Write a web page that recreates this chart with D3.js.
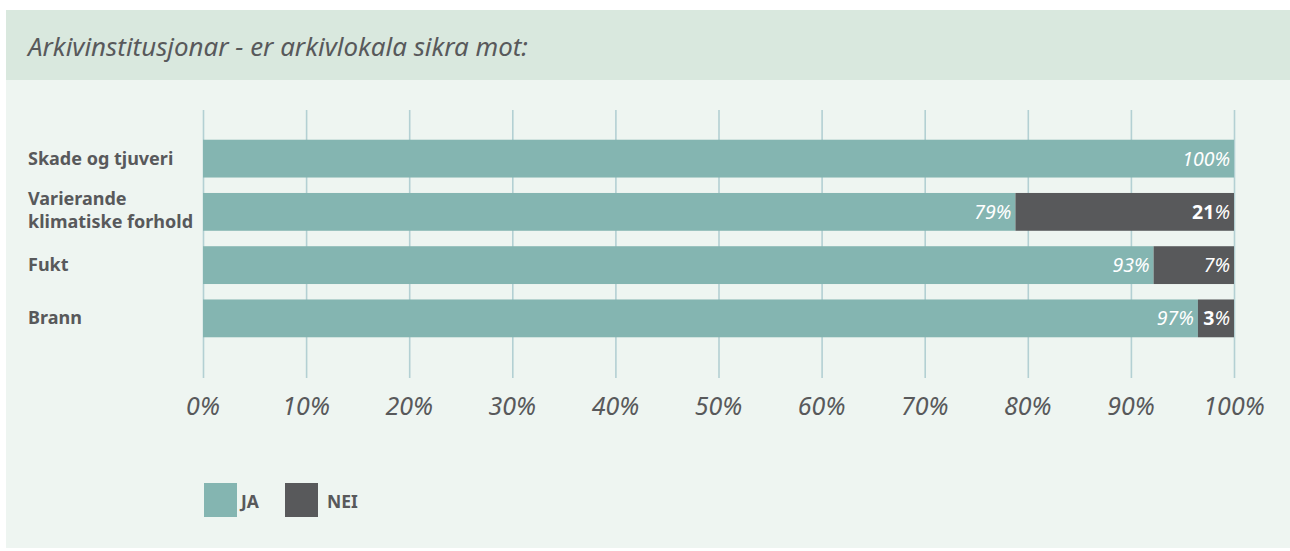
<!DOCTYPE html>
<html>
<head>
<meta charset="utf-8">
<script src="https://cdn.jsdelivr.net/npm/d3@7"></script>
<style>
  body { margin: 0; background: #ffffff; }
  svg { display: block; font-family: "Noto Sans", sans-serif; }
</style>
</head>
<body>
<svg id="chart" width="1290" height="551"></svg>
<script>
// data
var title = "Arkivinstitusjonar - er arkivlokala sikra mot:";
var categories = [["Skade og tjuveri"], ["Varierande", "klimatiske forhold"], ["Fukt"], ["Brann"]];
var jaValues = [100, 78.8, 92.2, 96.5];
var neiValues = [0, 21.2, 7.8, 3.5];
var jaLabels = ["100", "79", "93", "97"];
var neiLabels = ["", "21", "7", "3"];
var neiBold = [false, true, false, true];
var tickValues = [0, 10, 20, 30, 40, 50, 60, 70, 80, 90, 100];
var seriesNames = ["JA", "NEI"];
var colors = ["#84b5b1", "#58595b"];
var textColor = "#58595b";

var svg = d3.select("svg#chart");

// panel background
svg.append("rect").attr("x", 6).attr("y", 10).attr("width", 1284).attr("height", 538).attr("fill", "#eef5f1");
svg.append("rect").attr("x", 6).attr("y", 10).attr("width", 1284).attr("height", 70).attr("fill", "#d9e8de");

svg.append("text")
  .attr("x", 28).attr("y", 56)
  .attr("font-size", 25).attr("font-style", "italic")
  .attr("fill", textColor)
  .attr("textLength", 500).attr("lengthAdjust", "spacingAndGlyphs")
  .text(title);

var xScale = d3.scaleLinear().domain([0, 100]).range([203, 1234]);
var yScale = d3.scaleBand().domain(d3.range(categories.length)).range([132, 345]).paddingInner(0.29).paddingOuter(0.145);

// grid
var g = svg.append("g");
g.append("g")
  .attr("transform", "translate(0,378)")
  .call(d3.axisBottom(xScale).tickValues(tickValues).tickSize(-268).tickFormat(""))
  .call(function (s) {
    s.select(".domain").remove();
    s.selectAll(".tick line").attr("stroke", "#b3d0d3").attr("stroke-width", 1.6);
  });

// tick labels
g.selectAll(".xlab")
  .data(tickValues)
  .enter()
  .append("text")
  .attr("class", "xlab")
  .attr("x", function (d) { return xScale(d); })
  .attr("y", 415)
  .attr("text-anchor", "middle")
  .attr("font-size", 25).attr("font-style", "italic")
  .attr("fill", textColor)
  .text(function (d) { return d + "%"; });

// bars
var bh = yScale.bandwidth();
g.selectAll(".bar-ja")
  .data(jaValues)
  .enter()
  .append("rect")
  .attr("x", xScale(0))
  .attr("y", function (d, i) { return yScale(i); })
  .attr("width", function (d) { return xScale(d) - xScale(0); })
  .attr("height", bh)
  .attr("fill", colors[0]);

g.selectAll(".bar-nei")
  .data(neiValues)
  .enter()
  .append("rect")
  .attr("x", function (d, i) { return xScale(jaValues[i]); })
  .attr("y", function (d, i) { return yScale(i); })
  .attr("width", function (d) { return xScale(d) - xScale(0); })
  .attr("height", bh)
  .attr("fill", colors[1]);

// value labels
g.selectAll(".lab-ja")
  .data(jaValues)
  .enter()
  .append("text")
  .attr("x", function (d) { return xScale(d) - 4; })
  .attr("y", function (d, i) { return yScale(i) + bh / 2 + 7; })
  .attr("text-anchor", "end")
  .attr("font-size", 19.5).attr("font-style", "italic")
  .attr("fill", "#ffffff")
  .text(function (d, i) { return jaLabels[i] + "%"; });

var neiText = g.selectAll(".lab-nei")
  .data(neiValues.map(function (d, i) { return i; }).filter(function (i) { return neiValues[i] > 0; }))
  .enter()
  .append("text")
  .attr("x", xScale(100) - 4)
  .attr("y", function (i) { return yScale(i) + bh / 2 + 7; })
  .attr("text-anchor", "end")
  .attr("font-size", 19.5)
  .attr("fill", "#ffffff");
neiText.append("tspan")
  .attr("font-weight", function (i) { return neiBold[i] ? "bold" : "normal"; })
  .attr("font-style", function (i) { return neiBold[i] ? "normal" : "italic"; })
  .text(function (i) { return neiLabels[i]; });
neiText.append("tspan")
  .attr("font-style", "italic")
  .text("%");

// category labels
categories.forEach(function (lines, i) {
  var cy = yScale(i) + bh / 2;
  var t = svg.append("text")
    .attr("x", 28)
    .attr("font-size", 18).attr("font-weight", "bold")
    .attr("fill", textColor);
  lines.forEach(function (line, j) {
    t.append("tspan")
      .attr("x", 28)
      .attr("y", cy + 6 + (j - (lines.length - 1) / 2) * 23 - (lines.length > 1 ? 1 : 0))
      .text(line);
  });
});

// legend
var legendX = [204, 285];
seriesNames.forEach(function (name, i) {
  svg.append("rect")
    .attr("x", legendX[i]).attr("y", 483)
    .attr("width", 33).attr("height", 34)
    .attr("fill", colors[i]);
  svg.append("text")
    .attr("x", legendX[i] + (i === 0 ? 37 : 42)).attr("y", 508)
    .attr("font-size", 17.5).attr("font-weight", "bold")
    .attr("fill", textColor)
    .text(name);
});
</script>
</body>
</html>
